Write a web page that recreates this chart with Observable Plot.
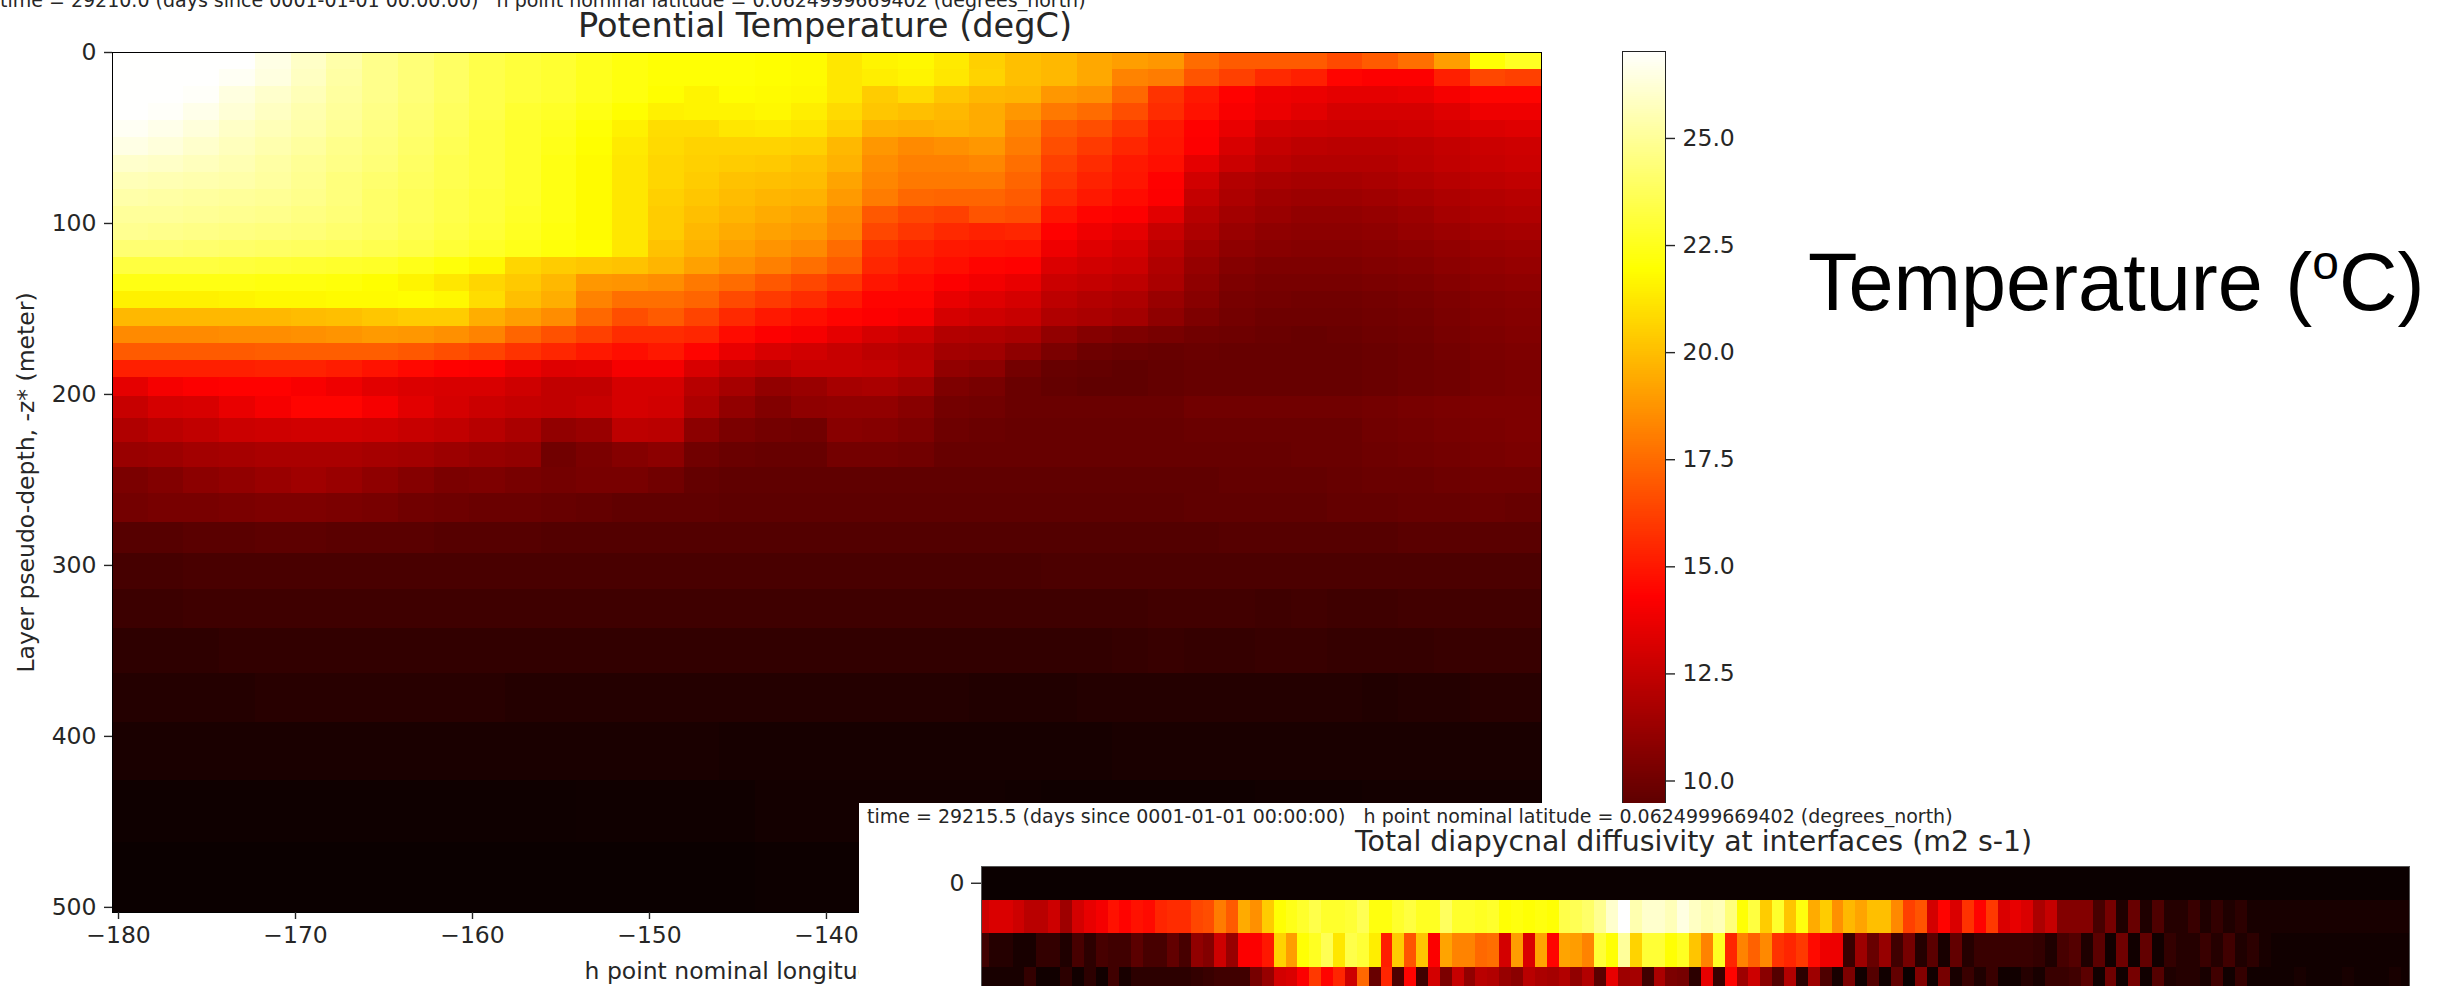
<!DOCTYPE html>
<html><head><meta charset="utf-8">
<script src="https://cdn.jsdelivr.net/npm/d3@7"></script>
<script src="https://cdn.jsdelivr.net/npm/@observablehq/plot@0.6"></script>
<style>
html,body{margin:0;padding:0;background:#fff;width:2444px;height:986px;overflow:hidden}
#page{position:relative;width:2444px;height:986px;overflow:hidden;font-family:"DejaVu Sans",sans-serif;color:#262626}
.layer{position:absolute;left:0;top:0}
.txt{position:absolute;white-space:pre;line-height:1}
#inset{position:absolute;left:859px;top:803px;width:1585px;height:183px;background:#fff;overflow:hidden}
svg rect{shape-rendering:crispEdges}
</style></head><body><div id="page"></div>
<script>
// ---------- Main panel: potential temperature (degC), one list per model layer, west to east ----------
const lonStart = -180.34, lonStep = 2.0185;
const depthEdges = [0,10,20,30,40,50,60,70,80,90,100,110,120,130,140,150,160,170,180,190,201,214,228,243,258,275,293,314,337,363,392,426,462,503];
const t00=[27,27,27,27,26.5,25.9,25.3,24.7,24.3,23.9,23.4,23.1,22.9,22.5,22.2,22,22,22,21.9,21.8,21.2,21.6,21.7,21.3,20.5,20,19.8,19.3,19,18.8,17.5,17,17,17,16.5,17,17.6,19,22,22.6];
const t01=[27,27,27,26.8,26.4,25.8,25.2,24.7,24.3,23.9,23.4,23.1,22.9,22.5,22.2,22,22,22,21.9,21.8,21.2,21.4,21.6,21.2,20.6,20,19.8,19.3,18.2,18,16.8,16.2,15.5,15.2,14.4,14.2,14.2,15.2,16.4,16.2];
const t02=[27,27,26.9,26.4,26,25.6,25.1,24.7,24.3,23.9,23.4,23.1,22.9,22.5,22.2,21.9,21.6,21.9,21.8,21.7,21.2,20.4,20.8,20.2,19.8,19.7,18.8,18.6,17.4,15.8,15,14.3,13.8,13.7,13.5,13.5,13.6,14,14.4,14.4];
const t03=[27,26.9,26.6,26.2,25.8,25.4,25,24.6,24.2,23.8,23.4,22.9,22.7,22.3,21.9,21.5,21.6,21.6,21.7,21.4,20.8,20.2,20,19.8,19.4,18.8,17.9,17.5,16.6,15.6,14.8,14.1,13.7,13.4,13,13,13,13.3,13.8,13.8];
const t04=[26.8,26.6,26.3,25.9,25.6,25.3,24.9,24.5,24.1,23.7,23.2,22.8,22.5,22,21.5,20.9,20.9,21.2,21.3,21.1,20.5,19.6,19.5,19.6,19.4,18.3,17,16.6,15.9,15,14.3,13.6,12.9,12.8,12.7,12.7,12.8,13,13.2,13.3];
const t05=[26.5,26.3,26,25.7,25.4,25.1,24.7,24.4,24,23.6,23.2,22.8,22.4,21.9,21.3,20.8,20.6,20.6,20.6,20.5,19.8,18.8,18.4,18.6,18.8,18,16.6,16,15.4,14.9,14.2,13.1,12.5,12.3,12.2,12.2,12.3,12.5,12.7,12.8];
const t06=[26,25.9,25.7,25.5,25.2,24.9,24.6,24.3,23.9,23.5,23.2,22.8,22.3,21.8,21.2,20.7,20.5,20.4,20.3,20.1,19.6,18.5,18.1,18.1,18.3,17.6,16.2,15.6,15,14.7,13.5,12.7,12.2,12,12,12,12.2,12.4,12.6,12.7];
const t07=[25.6,25.5,25.4,25.3,25.1,24.8,24.4,24.1,23.8,23.5,23.2,22.8,22.3,21.8,21.2,20.7,20.4,20.1,20,19.9,19.2,18.3,17.9,17.9,17.9,17.3,15.9,15.3,14.9,14.3,12.9,12,11.7,11.6,11.6,11.7,11.9,12.1,12.3,12.4];
const t08=[25.3,25.2,25.1,25,24.9,24.7,24.4,24,23.7,23.4,23.1,22.8,22.3,21.8,21.2,20.5,20.2,19.9,19.7,19.6,18.9,18,17.4,17.3,17.3,17,15.5,15,14.6,14.2,12.5,11.8,11.4,11.3,11.3,11.4,11.6,11.8,12,12.1];
const t09=[25,25,24.9,24.8,24.7,24.5,24.3,24,23.7,23.4,23.1,22.7,22.3,21.8,21.2,20.4,20,19.7,19.4,19.2,18.4,16.9,16.4,16.2,16.8,16.6,14.9,14.4,14.2,13.4,12.1,11.5,11.2,11,11,11.1,11.3,11.6,11.8,11.9];
const t10=[24.8,24.7,24.6,24.5,24.4,24.3,24.1,23.9,23.6,23.3,23,22.6,22.2,21.8,21.2,20.4,19.8,19.4,19.1,18.9,18.2,16.4,15.9,15.5,15.3,15.4,14.3,13.8,13.5,12.6,11.8,11.2,10.9,10.8,10.8,10.9,11.1,11.3,11.5,11.6];
const t11=[24.2,24.2,24.1,24,23.9,23.8,23.7,23.5,23.3,23,22.7,22.4,22.1,21.9,21.2,20.1,19.6,19.1,18.7,18.4,17.5,15.7,15.3,15,14.9,14.8,13.8,13.3,13,12.2,11.4,10.9,10.7,10.6,10.6,10.7,10.8,11,11.2,11.3];
const t12=[23.2,23.2,23.2,23.1,23,22.9,22.8,22.7,22.4,22.1,21.7,20.7,20.4,20.2,20.1,19.7,19.1,18.6,18.1,17.6,17,15.4,15,14.7,14.4,14.3,13.2,12.9,12.7,11.9,11.1,10.6,10.4,10.4,10.4,10.5,10.6,10.8,11,11.1];
const t13=[22.3,22.3,22.3,22.3,22.2,22.2,22.1,21.9,21.6,21.2,20.7,20.3,19.8,18.8,18.7,18.5,17.9,17.5,16.9,16.4,15.9,14.9,14.6,14.2,13.9,13.6,12.7,12.5,12.3,11.7,10.9,10.4,10.2,10.2,10.2,10.3,10.4,10.6,10.8,10.9];
const t14=[21.5,21.5,21.5,21.6,21.7,21.7,21.8,21.8,21.9,21.7,20.9,20,19.5,18.2,17.6,17.6,17.3,16.5,16,15.6,15,14.4,14.4,13.6,13.3,13,12.3,12,11.8,11.2,10.7,10.2,10.1,10,10,10.1,10.2,10.4,10.6,10.7];
const t15=[19.8,19.8,19.8,19.8,19.8,19.9,20,20.2,20.4,20.4,19.5,19,18.5,17.4,16.6,17,16.3,15.5,15,14.7,14.4,14.2,14,13,12.8,12.6,11.9,11.7,11.5,10.9,10.4,10.1,9.9,9.9,9.9,10,10.1,10.3,10.5,10.6];
const t16=[18.4,18.4,18.4,18.5,18.5,18.6,18.7,18.9,18.8,18.6,18.2,17.3,16.7,16.2,15.6,15.6,15.4,14.6,14.2,14,13.5,13,12.7,12,11.9,11.7,11,10.6,10.4,10.2,10,9.9,9.8,9.7,9.8,9.9,10,10.2,10.4,10.5];
const t17=[17,17,17,17,17.1,17.1,17.1,17.1,16.9,16.6,16.3,15.8,15.4,15,14.7,15,14.4,13.6,13.1,12.9,12.6,12.3,12.1,11.5,11.4,10.9,10.3,9.9,9.8,9.7,9.8,9.7,9.7,9.7,9.7,9.8,9.9,10.1,10.3,10.4];
const t18=[15.2,15.2,15.2,15.2,15.3,15.3,15.1,14.8,14.5,14.3,14.2,13.7,13.3,13.4,14,14,13.1,12.5,12.2,12.6,12.6,12.5,12.2,11,10.8,10.1,9.7,9.6,9.5,9.6,9.7,9.7,9.7,9.7,9.7,9.8,9.9,10,10.2,10.3];
const t19=[13.5,14,14.2,14.3,14.3,14.1,13.8,13.4,13.2,13.1,13.1,12.8,12.4,12.4,13,13,12.1,11.6,11,11.2,11.6,11.7,11.4,10.4,10.2,9.8,9.6,9.5,9.5,9.6,9.7,9.7,9.7,9.7,9.7,9.8,9.9,10,10.2,10.3];
const t20=[12.6,13,13.1,13.6,14,14.4,14.4,14,13.4,13,12.7,12.5,12.4,12.6,13,12.9,11.8,11,10.5,10.9,11,11,10.7,10.1,10,9.8,9.8,9.8,9.8,9.8,10,10,10,10,10,10.1,10.2,10.3,10.4,10.4];
const t21=[11.9,12.2,12.4,12.7,12.8,12.9,12.9,12.8,12.6,12.4,12.1,11.7,11,11.2,12.3,12.2,10.8,10.3,10.1,10,10.7,10.6,10.4,9.9,9.8,9.7,9.7,9.7,9.7,9.7,9.8,9.8,9.8,9.8,9.8,10,10.1,10.2,10.3,10.4];
const t22=[11.2,11.3,11.5,11.6,11.7,11.7,11.7,11.6,11.5,11.3,11.1,11,10,10.3,10.6,10.8,10,9.8,9.7,9.7,10.1,10.1,10,9.7,9.7,9.7,9.7,9.7,9.7,9.7,9.7,9.7,9.7,9.8,9.8,9.9,10,10.1,10.2,10.3];
const t23=[10.3,10.5,10.8,11,11.2,11.4,11.2,10.9,10.6,10.3,10.4,10.2,10.1,10.2,10.2,10,9.6,9.5,9.5,9.5,9.5,9.5,9.5,9.5,9.5,9.5,9.5,9.5,9.5,9.5,9.5,9.6,9.6,9.6,9.7,9.8,9.8,9.9,10,10];
const t24=[10.1,10.2,10.2,10.3,10.4,10.4,10.3,10.2,10,9.9,9.8,9.8,9.7,9.6,9.5,9.5,9.5,9.4,9.4,9.4,9.4,9.4,9.4,9.4,9.4,9.4,9.4,9.4,9.4,9.4,9.5,9.5,9.5,9.5,9.6,9.6,9.7,9.7,9.8,9.7];
const t25=[9.2,9.2,9.3,9.3,9.4,9.4,9.3,9.3,9.3,9.2,9.2,9.2,9.1,9.1,9.1,9.1,9.1,9.1,9.1,9.1,9.1,9.1,9.1,9.1,9.1,9.1,9.1,9.1,9.1,9.1,9.1,9.2,9.2,9.2,9.2,9.2,9.3,9.3,9.3,9.3];
const t26=[8.7,8.7,8.8,8.8,8.8,8.8,8.8,8.8,8.8,8.8,8.8,8.8,8.8,8.8,8.8,8.8,8.8,8.8,8.8,8.8,8.8,8.8,8.8,8.8,8.8,8.8,8.9,8.9,8.9,8.9,8.9,8.9,8.9,8.9,8.9,8.9,8.9,8.9,8.9,8.9];
const t27=[8.4,8.4,8.5,8.5,8.5,8.5,8.5,8.5,8.5,8.5,8.5,8.5,8.5,8.5,8.5,8.5,8.5,8.5,8.5,8.5,8.5,8.5,8.5,8.5,8.5,8.5,8.5,8.5,8.5,8.6,8.6,8.6,8.5,8.6,8.5,8.5,8.6,8.6,8.6,8.6];
const t28=[8,8,8,8.1,8.1,8.1,8.1,8.1,8.1,8.1,8.1,8.1,8.1,8.1,8.1,8.1,8.1,8.1,8.1,8.1,8.1,8.1,8.1,8.1,8.1,8.1,8.1,8.1,8.2,8.3,8.2,8.2,8.3,8.3,8.2,8.2,8.2,8.3,8.3,8.3];
const t29=[7.7,7.7,7.7,7.7,7.8,7.8,7.8,7.8,7.8,7.8,7.8,7.7,7.7,7.7,7.7,7.7,7.7,7.7,7.7,7.7,7.7,7.7,7.7,7.7,7.6,7.6,7.6,7.7,7.7,7.7,7.7,7.7,7.7,7.7,7.7,7.6,7.7,7.7,7.8,7.8];
const t30=[7.4,7.4,7.4,7.4,7.4,7.4,7.4,7.4,7.4,7.4,7.4,7.4,7.4,7.4,7.4,7.4,7.4,7.3,7.3,7.3,7.3,7.3,7.3,7.3,7.3,7.3,7.3,7.3,7.4,7.4,7.4,7.4,7.4,7.4,7.4,7.4,7.4,7.4,7.4,7.4];
const t31=[7.05,7.05,7.05,7.05,7.05,7.05,7.05,7.05,7.05,7.05,7.05,7.05,7.05,7.1,7.1,7.1,7.1,7.1,7.2,7.2,7.2,7.2,7.2,7.2,7.2,7.15,7.1,7.1,7.1,7.1,7.1,7.1,7.15,7.15,7.15,7.2,7.2,7.2,7.2,7.2];
const t32=[6.95,6.95,6.95,6.95,6.95,6.95,6.95,6.95,6.95,6.95,6.95,6.95,6.95,6.95,6.95,6.95,6.95,6.95,7,7,7,7,7,7,7,7,7,7,7,7,7,7,7,7,7,7,7,7,7,7];
const tempRows=[t00,t01,t02,t03,t04,t05,t06,t07,t08,t09,t10,t11,t12,t13,t14,t15,t16,t17,t18,t19,t20,t21,t22,t23,t24,t25,t26,t27,t28,t29,t30,t31,t32];

// ---------- Inset: diffusivity, position along the colour map in percent, one list per interface ----------
const k0=[0,0,0,0,0,0,0,0,0,0,0,0,0,0,0,0,0,0,0,0,0,0,0,0,0,0,0,0,0,0,0,0,0,0,0,0,0,0,0,0,0,0,0,0,0,0,0,0,0,0,0,0,0,0,0,0,0,0,0,0,0,0,0,0,0,0,0,0,0,0,0,0,0,0,0,0,0,0,0,0,0,0,0,0,0,0,0,0,0,0,0,0,0,0,0,0,0,0,0,0,0,0,0,0,0,0,0,0,0,0,0,0,0,0,0,0,0,0,0,0,0];
const k1=[29,31,31,29,26,26,29,22,30,33,35,39,37,39,38,42,43,43,47,48,55,50,62,58,67,75,77,79,82,79,79,80,83,76,76,79,81,78,78,84,79,79,78,79,75,76,75,76,75,82,83,85,89,95,100,92,95,95,93,97,94,92,93,87,75,81,67,79,66,76,62,67,58,64,61,65,65,57,46,49,30,37,31,44,37,45,31,33,31,24,28,18,18,18,9,16,3,14,3,10,4,4,7,3,6,3,5,2,2,2,2,2,2,2,2,2,2,2,2,2,2];
const k2=[8,4,4,2,2,6,6,3,9,5,9,8,8,12,9,9,13,9,20,18,29,21,36,36,40,68,60,75,78,83,71,82,80,72,41,67,49,66,36,61,56,56,52,53,30,60,31,61,37,61,60,56,80,75,90,68,80,80,75,78,66,56,78,42,56,51,57,44,42,45,38,34,34,7,22,14,21,8,16,4,12,2,13,4,7,7,7,7,7,6,3,9,11,3,12,1,15,1,13,1,6,4,4,7,4,8,3,5,2,1,1,1,1,1,1,1,1,1,1,1,1];
const k3=[2,2,2,2,6,1,1,5,1,5,1,8,2,5,5,5,5,5,6,7,8,8,8,16,21,30,31,36,45,37,42,29,52,14,42,10,37,8,30,17,28,20,26,25,21,19,26,24,23,25,20,25,12,33,22,23,8,24,17,16,5,33,7,37,22,29,19,11,25,5,22,10,2,17,1,11,1,13,0,18,1,16,2,7,3,7,1,1,4,2,7,7,8,12,1,15,1,16,1,11,3,4,4,2,8,1,6,1,1,1,1,2,1,1,1,2,1,1,1,2,1];
const kappaRows=[k0,k1,k2,k3];

// ---------- Ticks and texts ----------
const lonTicks=[-180,-170,-160,-150,-140,-130,-120,-110,-100];
const depthTicks=[0,100,200,300,400,500];
const barTicks=[10,12.5,15,17.5,20,22.5,25];
const tempDomain=[6.93,27.03];
const metaTop="time = 29210.0 (days since 0001-01-01 00:00:00)   h point nominal latitude = 0.0624999669402 (degrees_north)";
const metaInset="time = 29215.5 (days since 0001-01-01 00:00:00)   h point nominal latitude = 0.0624999669402 (degrees_north)";

const clamp=v=>Math.max(0,Math.min(1,v));
function hot(t){
  const r=clamp(0.0416+t*0.9584/0.365), g=clamp((t-0.365)/0.381), b=clamp((t-0.746)/0.254);
  return `rgb(${Math.round(r*255)},${Math.round(g*255)},${Math.round(b*255)})`;
}
const page=document.getElementById("page");
const W=2444,H=986;
const base={width:W,height:H,style:{background:"transparent",maxWidth:"none",fontFamily:"DejaVu Sans",fontSize:"23.5px",color:"#262626"}};
function add(parent,el){el.classList.add("layer");parent.appendChild(el);}
function text(parent,str,left,top,size,extra){
  const d=document.createElement("div");d.className="txt";d.textContent=str;
  d.style.left=left+"px";d.style.top=top+"px";d.style.fontSize=size+"px";
  if(extra)Object.assign(d.style,extra);parent.appendChild(d);return d;
}

// main heat map
const tempCells=tempRows.flatMap((row,r)=>row.map((v,c)=>({x1:lonStart+c*lonStep,x2:lonStart+(c+1)*lonStep,y1:depthEdges[r],y2:depthEdges[r+1],v})));
add(page,Plot.plot({...base,marginLeft:112,marginRight:W-1541,marginTop:52,marginBottom:H-912,
  x:{domain:[lonStart,lonStart+40*lonStep]},
  y:{domain:[503,0]},
  color:{type:"linear",domain:tempDomain,interpolate:hot},
  marks:[
    Plot.rect(tempCells,{x1:"x1",x2:"x2",y1:"y1",y2:"y2",fill:"v"}),
    Plot.frame({stroke:"#000",strokeWidth:1.6}),
    Plot.axisX({ticks:lonTicks,tickSize:7,tickPadding:7,strokeWidth:1.4,label:"h point nominal longitude (degrees_east)",labelAnchor:"center",labelArrow:"none",labelOffset:66}),
    Plot.axisY({ticks:depthTicks,tickSize:8,tickPadding:8,strokeWidth:1.4,tickFormat:d=>String(d),label:"Layer pseudo-depth, -z* (meter)",labelAnchor:"center",labelArrow:"none",labelOffset:95})
  ]}));

// colour bar
const barLevels=d3.range(tempDomain[0],tempDomain[1],0.05);
add(page,Plot.plot({...base,marginLeft:1622,marginRight:W-1665,marginTop:51,marginBottom:H-912,
  x:{domain:[0,1],axis:null},
  y:{domain:tempDomain},
  color:{type:"linear",domain:tempDomain,interpolate:hot},
  marks:[
    Plot.rect(barLevels,{x1:0,x2:1,y1:d=>d,y2:d=>d+0.05,fill:d=>d}),
    Plot.frame({stroke:"#222",strokeWidth:1.6}),
    Plot.axisY({anchor:"right",ticks:barTicks,tickSize:9,tickPadding:8,strokeWidth:1.4,tickFormat:d=>d.toFixed(1),label:null})
  ]}));

// page texts above the main panel
text(page,metaTop,0,-9,19);
text(page,"Potential Temperature (degC)",578,9,33.6);
const big=document.createElement("div");big.className="txt";
big.style.cssText="left:1808px;top:242px;font:81px 'Liberation Sans',Arial,sans-serif;color:#000;line-height:1";
big.innerHTML='Temperature (<sup style="font-size:48px;line-height:0;vertical-align:baseline;position:relative;top:-31px">o</sup>C)';
page.appendChild(big);

// inset, pasted over the lower right part
const inset=document.createElement("div");inset.id="inset";page.appendChild(inset);
text(inset,metaInset,8,4,19);
text(inset,"Total diapycnal diffusivity at interfaces (m2 s-1)",496,25,28.4);
const kappaCells=kappaRows.flatMap((row,r)=>row.map((v,c)=>({c,r,v})));
const IW=1585,IH=183;
add(inset,Plot.plot({...base,width:IW,height:IH,marginLeft:122,marginRight:IW-1550,marginTop:63,marginBottom:0,clip:true,
  x:{domain:[0.337,120.65]},
  y:{domain:[3.08,-0.5],axis:null},
  color:{type:"linear",domain:[0,100],interpolate:hot},
  marks:[
    Plot.rect(kappaCells,{x1:d=>d.c,x2:d=>d.c+1,y1:d=>d.r-0.5,y2:d=>d.r+0.5,fill:"v",clip:true}),
    Plot.frame({stroke:"#555",strokeWidth:1}),
    Plot.axisY({ticks:[0],tickSize:10,tickPadding:7,strokeWidth:1.4,tickFormat:d=>String(d),label:null})
  ]}));
</script></body></html>
